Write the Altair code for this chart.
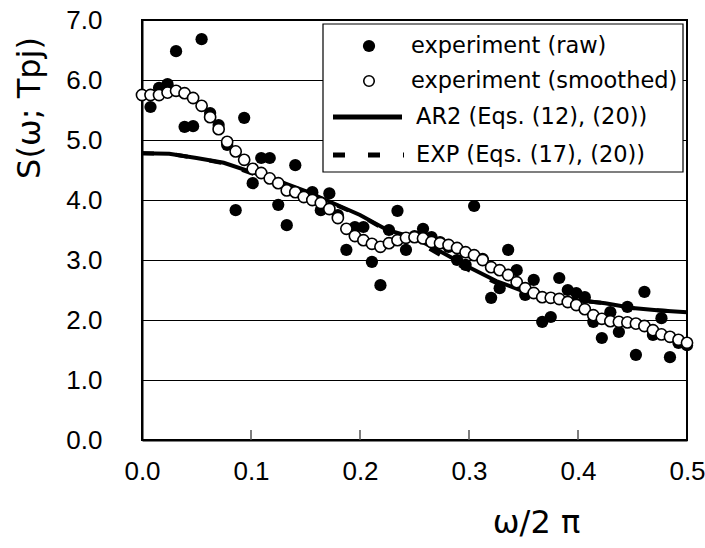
import altair as alt
import pandas as pd

# ---------------- data ----------------
N = 65  # frequencies k/128, k = 0..64
freq = [k / 128 for k in range(N)]

raw_k = [1, 2, 3, 4, 5, 6, 7, 8, 9, 10, 11, 12, 13, 14, 15, 16, 17, 18, 19, 20,
         21, 22, 23, 24, 25, 26, 27, 28, 29, 30, 31, 32, 33, 34, 35, 36, 37, 38,
         39, 40, 41, 42, 43, 44, 45, 46, 47, 48, 49, 50, 51, 52, 53, 54, 55, 56,
         57, 58, 59, 60, 61, 62, 63, 64]
raw_val = [5.55, 5.87, 5.93, 6.48, 5.22, 5.23, 6.68, 5.45, 5.25, 4.92, 3.83, 5.37,
           4.28, 4.70, 4.70, 3.92, 3.58, 4.58, 4.08, 4.13, 3.83, 4.11, 3.75, 3.17,
           3.55, 3.55, 2.97, 2.58, 3.50, 3.82, 3.17, 3.40, 3.52, 3.38, 3.30, 3.22,
           3.00, 2.92, 3.90, 3.02, 2.37, 2.53, 3.17, 2.83, 2.42, 2.67, 1.97, 2.05,
           2.70, 2.50, 2.45, 2.38, 1.97, 1.70, 2.13, 1.80, 2.22, 1.42, 2.47, 1.75,
           2.03, 1.38, 1.62, 1.58]

smooth_val = [5.75, 5.75, 5.75, 5.79, 5.82, 5.78, 5.70, 5.57, 5.38, 5.18, 4.97,
              4.81, 4.67, 4.52, 4.45, 4.36, 4.28, 4.16, 4.13, 4.05, 4.00, 3.95,
              3.85, 3.70, 3.52, 3.40, 3.33, 3.27, 3.22, 3.28, 3.33, 3.37, 3.38,
              3.36, 3.30, 3.28, 3.25, 3.20, 3.13, 3.08, 3.00, 2.88, 2.83, 2.75,
              2.63, 2.53, 2.45, 2.38, 2.37, 2.35, 2.30, 2.25, 2.18, 2.08, 2.02,
              1.98, 1.97, 1.96, 1.94, 1.90, 1.83, 1.76, 1.72, 1.67, 1.62]

line_x = [0.0, 0.025, 0.05, 0.075, 0.1, 0.125, 0.15, 0.175, 0.2, 0.225, 0.25,
          0.275, 0.3, 0.325, 0.35, 0.375, 0.4, 0.425, 0.45, 0.475, 0.5]
ar2_val = [4.78, 4.77, 4.70, 4.62, 4.47, 4.32, 4.15, 3.95, 3.75, 3.50, 3.37,
           3.13, 2.88, 2.65, 2.48, 2.40, 2.33, 2.28, 2.20, 2.16, 2.13]
exp_val = [4.78, 4.77, 4.70, 4.61, 4.45, 4.31, 4.14, 3.94, 3.74, 3.49, 3.33,
           3.07, 2.83, 2.62, 2.47, 2.39, 2.33, 2.28, 2.20, 2.16, 2.13]

x_ticks = [0.0, 0.1, 0.2, 0.3, 0.4, 0.5]
inner_ticks = [0.1, 0.2, 0.3, 0.4]
y_ticks = [0, 1, 2, 3, 4, 5, 6, 7]

legend_labels = ["experiment (raw)", "experiment (smoothed)",
                 "AR2 (Eqs. (12), (20))", "EXP (Eqs. (17), (20))"]
y_title = "S(ω; Tpj)"
x_title = "ω/2 π"

# ---------------- tables ----------------
raw_df = pd.DataFrame({"f": [freq[k] for k in raw_k], "S": raw_val})
smooth_df = pd.DataFrame({"f": freq, "S": smooth_val})
ar2_df = pd.DataFrame({"f": line_x, "S": ar2_val})
exp_df = pd.DataFrame({"f": line_x, "S": exp_val})
tick_df = pd.DataFrame({"f": inner_ticks})

W, H = 545, 420
FONT = "DejaVu Sans"
TICKFONT = "Liberation Sans"

xs = alt.Scale(domain=[0, 0.5], nice=False, zero=False)
ys = alt.Scale(domain=[0, 7], nice=False)

x_axis = alt.Axis(values=x_ticks, format=".1f", title=x_title, grid=False,
                  ticks=False, domainColor="black", domainWidth=2,
                  labelFont=TICKFONT, labelFontSize=26, labelColor="black",
                  labelPadding=18, labelFlush=False,
                  titleFont=FONT, titleFontSize=32, titleFontWeight="normal",
                  titleColor="black", titleX=394, titleY=92,
                  titleAlign="center", titleBaseline="alphabetic")
y_axis = alt.Axis(values=y_ticks, format=".1f", title=None, grid=True,
                  gridColor="black", gridWidth=1, ticks=False,
                  domainColor="black", domainWidth=2,
                  labelFont=TICKFONT, labelFontSize=26, labelColor="black",
                  labelPadding=40, labelFlush=False)

raw = alt.Chart(raw_df).mark_point(filled=True, color="black", size=150,
                                   opacity=1).encode(
    x=alt.X("f:Q", scale=xs, axis=x_axis),
    y=alt.Y("S:Q", scale=ys, axis=y_axis))

ar2 = alt.Chart(ar2_df).mark_line(color="black", strokeWidth=4).encode(
    x=alt.X("f:Q", scale=xs), y=alt.Y("S:Q", scale=ys))

expl = alt.Chart(exp_df).mark_line(color="black", strokeWidth=4,
                                   strokeDash=[12, 22]).encode(
    x=alt.X("f:Q", scale=xs), y=alt.Y("S:Q", scale=ys))

smooth = alt.Chart(smooth_df).mark_point(filled=True, fill="white",
                                         stroke="black", strokeWidth=1.6,
                                         size=125, opacity=1).encode(
    x=alt.X("f:Q", scale=xs), y=alt.Y("S:Q", scale=ys))

ticks = alt.Chart(tick_df).mark_rule(color="#555555", strokeWidth=1.5).encode(
    x=alt.X("f:Q", scale=xs), y=alt.value(H), y2=alt.value(H - 10))

one = pd.DataFrame({"a": [0]})

ytitle = alt.Chart(one).mark_text(text=y_title, angle=270, align="center",
                                  baseline="middle", font=FONT, fontSize=32,
                                  color="black").encode(
    x=alt.value(-112), y=alt.value(88))

# ---------------- legend ----------------
LX0, LX1, LY0, LY1 = 181, 541, 4, 152
rows = [26, 61, 97, 135]
sym_x = 227
txt_x = [269, 269, 274, 274]

leg_box = alt.Chart(one).mark_rect(fill="white", stroke="black",
                                   strokeWidth=1.2).encode(
    x=alt.value(LX0), x2=alt.value(LX1), y=alt.value(LY0), y2=alt.value(LY1))
leg_raw = alt.Chart(one).mark_point(filled=True, color="black", size=150,
                                    opacity=1).encode(
    x=alt.value(sym_x), y=alt.value(rows[0]))
leg_smooth = alt.Chart(one).mark_point(filled=True, fill="white",
                                       stroke="black", strokeWidth=1.6,
                                       size=110, opacity=1).encode(
    x=alt.value(sym_x), y=alt.value(rows[1]))
leg_ar2 = alt.Chart(one).mark_rule(color="black", strokeWidth=5).encode(
    x=alt.value(191), x2=alt.value(260), y=alt.value(rows[2]))
leg_exp = alt.Chart(one).mark_rule(color="black", strokeWidth=5,
                                   strokeDash=[12, 23]).encode(
    x=alt.value(191), x2=alt.value(262), y=alt.value(rows[3]))

leg_texts = []
for lab, ry, tx in zip(legend_labels, rows, txt_x):
    leg_texts.append(
        alt.Chart(one).mark_text(text=lab, align="left", baseline="middle",
                                 font=FONT, fontSize=22.5, color="black").encode(
            x=alt.value(tx), y=alt.value(ry)))

chart = alt.layer(
    raw, ar2, expl, smooth, ticks, ytitle,
    leg_box, leg_raw, leg_smooth, leg_ar2, leg_exp, *leg_texts
).properties(
    width=W, height=H,
    autosize=alt.AutoSizeParams(type="none"),
    padding={"left": 142, "top": 20, "right": 18, "bottom": 108},
    background="white"
).configure_view(stroke="black", strokeWidth=2)

chart.save("out.html", embed_options={"renderer": "svg", "actions": False})
